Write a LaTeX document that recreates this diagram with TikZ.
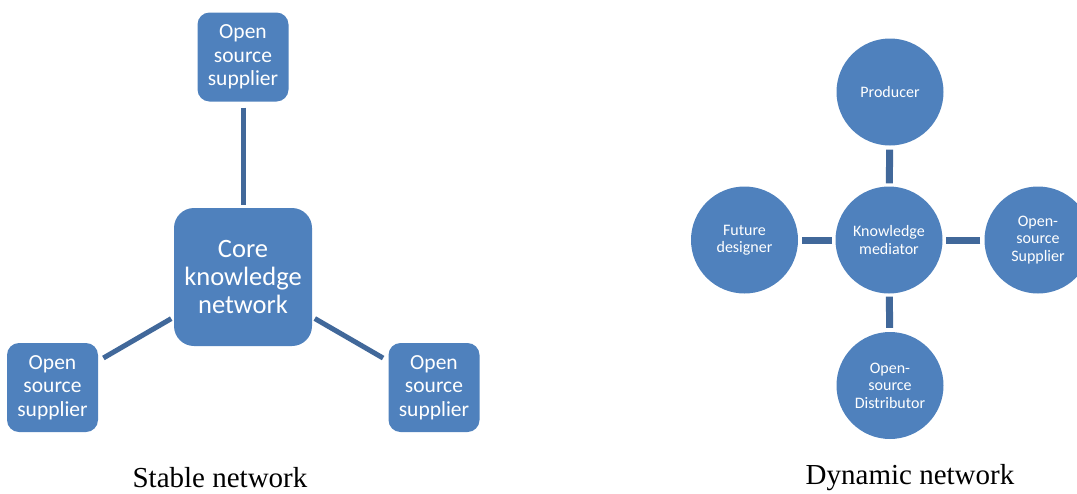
\documentclass[tikz,border=0pt]{standalone}
\usepackage{fontspec}
\setmainfont{Carlito}
\newfontfamily\capfont{Liberation Serif}
\definecolor{nodeblue}{HTML}{4F81BD}
\definecolor{linkblue}{HTML}{41689A}
\begin{document}
\begin{tikzpicture}[x=1pt,y=-1pt,
  sqbox/.style={draw=none,fill=nodeblue,rounded corners=12pt,text=white,align=center,
    minimum width=91pt,minimum height=89pt,inner sep=0pt,font=\fontsize{21.5}{23.5}\selectfont},
  corebox/.style={sqbox,rounded corners=20pt,minimum width=138pt,minimum height=138pt,
    font=\fontsize{26.5}{28}\selectfont},
  circ/.style={circle,draw=none,fill=nodeblue,text=white,align=center,minimum size=107pt,
    inner sep=0pt,font=\fontsize{16}{17.5}\selectfont},
  slink/.style={draw=linkblue,line width=5pt,shorten <=6pt,shorten >=3pt},
  dlink/.style={draw=linkblue,line width=7pt,shorten <=4pt,shorten >=3pt},
  caption/.style={font=\capfont\fontsize{29}{32}\selectfont,text=black}]
\useasboundingbox (0,0) rectangle (1077,493);
% Stable network
\node[sqbox] (top) at (243,57) {Open\\source\\supplier};
\node[corebox] (core) at (243,277) {Core\\knowledge\\network};
\node[sqbox] (bl) at (52.5,387.5) {Open\\source\\supplier};
\node[sqbox] (br) at (434,387.5) {Open\\source\\supplier};
\draw[slink] (top) -- (core);
\draw[slink] (bl) -- (core);
\draw[slink] (br) -- (core);
\node[caption] (cap1) at (220,478) {Stable network};
% Dynamic network
\node[circ] (prod) at (890,92) {Producer};
\node[circ] (med) at (889,240) {Knowledge\\mediator};
\node[circ] (fut) at (744.5,240) {Future\\designer};
\node[circ] (sup) at (1038,240) {Open-\\source\\Supplier};
\node[circ] (dist) at (890,385.5) {Open-\\source\\Distributor};
\draw[dlink] (prod) -- (med);
\draw[dlink] (fut) -- (med);
\draw[dlink] (sup) -- (med);
\draw[dlink] (dist) -- (med);
\node[caption] (cap2) at (910,478) {Dynamic network};
\end{tikzpicture}
\end{document}
